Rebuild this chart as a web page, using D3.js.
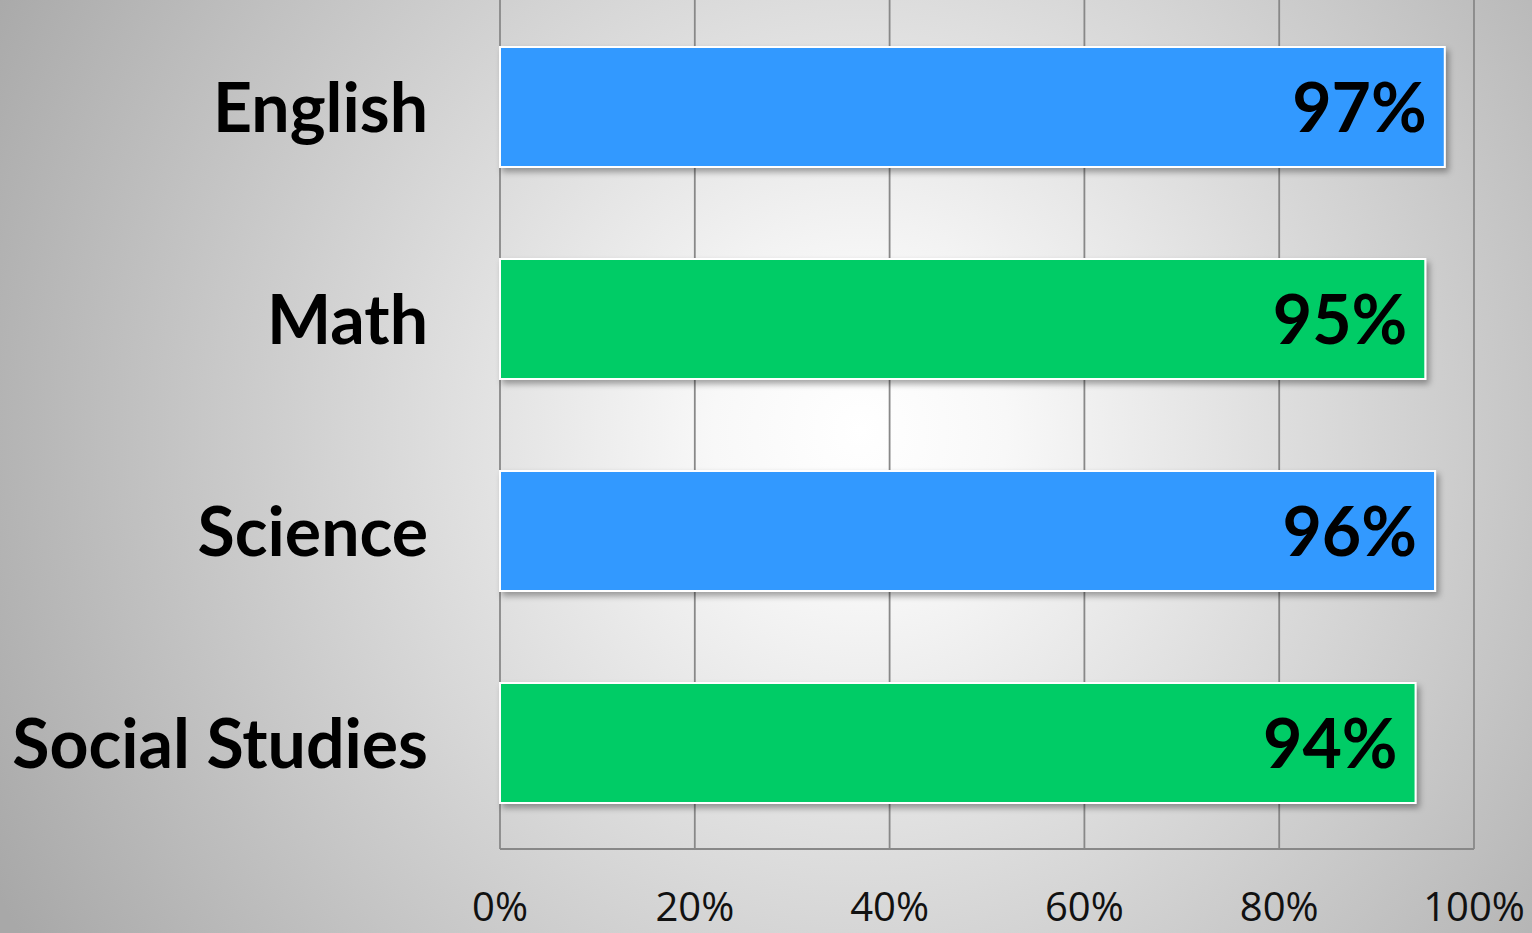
<!DOCTYPE html>
<meta charset="utf-8">
<script src="https://d3js.org/d3.v7.min.js"></script>
<style>
  body { margin: 0; overflow: hidden; }
</style>
<div id="my_dataviz"></div>
<script>
    // chart data
    var subjects = ["English", "Math", "Science", "Social Studies"];
    var scores = [0.97, 0.95, 0.96, 0.94];
    var barColors = ["#3399ff", "#00cc66", "#3399ff", "#00cc66"];
    var tickValues = [0, 0.2, 0.4, 0.6, 0.8, 1.0];

    var W = 1532, H = 933;
    var margin = {top: 1, right: 58, bottom: 84, left: 500},
        width = W - margin.left - margin.right,
        height = H - margin.top - margin.bottom;

    var root = d3.select("#my_dataviz")
      .append("svg")
        .attr("width", W)
        .attr("height", H);

    // background gradient
    var defs = root.append("defs");
    var grad = defs.append("radialGradient")
        .attr("id", "bg")
        .attr("gradientUnits", "userSpaceOnUse")
        .attr("cx", 860).attr("cy", 430).attr("r", 980);
    grad.append("stop").attr("offset", "0%").attr("stop-color", "#ffffff");
    grad.append("stop").attr("offset", "15%").attr("stop-color", "#f8f8f8");
    grad.append("stop").attr("offset", "100%").attr("stop-color", "#a8a8a8");

    var shadow = defs.append("filter")
        .attr("id", "shadow")
        .attr("x", "-5%").attr("y", "-20%")
        .attr("width", "115%").attr("height", "160%");
    shadow.append("feDropShadow")
        .attr("dx", 3).attr("dy", 4)
        .attr("stdDeviation", 3)
        .attr("flood-color", "#000")
        .attr("flood-opacity", 0.35);

    root.append("rect")
        .attr("width", W).attr("height", H)
        .attr("fill", "url(#bg)");

    var svg = root.append("g")
        .attr("transform", "translate(" + margin.left + "," + margin.top + ")");

    var x = d3.scaleLinear()
      .domain([0, 1])
      .range([0, width]);

    var y = d3.scaleBand()
      .domain(subjects)
      .range([0, height])
      .paddingInner(0.434)
      .paddingOuter(0.217);

    // gridlines
    svg.selectAll(".grid")
      .data(tickValues)
      .enter()
      .append("line")
        .attr("x1", function(d) { return x(d); })
        .attr("x2", function(d) { return x(d); })
        .attr("y1", -margin.top)
        .attr("y2", height)
        .attr("stroke", "#888888")
        .attr("stroke-width", 1.8);

    // bottom axis line
    svg.append("line")
        .attr("x1", 0).attr("x2", width)
        .attr("y1", height).attr("y2", height)
        .attr("stroke", "#888888")
        .attr("stroke-width", 1.8);

    // x tick labels
    svg.selectAll(".tick-label")
      .data(tickValues)
      .enter()
      .append("text")
        .attr("x", function(d) { return x(d); })
        .attr("y", height + 72)
        .attr("text-anchor", "middle")
        .style("font-family", "'Open Sans', sans-serif")
        .style("font-size", "40px")
        .attr("fill", "#111")
        .text(function(d) { return d3.format(".0%")(d); });

    // bars
    svg.selectAll(".bar")
      .data(subjects)
      .enter()
      .append("rect")
        .attr("x", 0)
        .attr("y", function(d) { return y(d); })
        .attr("width", function(d, i) { return x(scores[i]); })
        .attr("height", y.bandwidth())
        .attr("fill", function(d, i) { return barColors[i]; })
        .attr("stroke", "#ffffff")
        .attr("stroke-width", 2)
        .attr("filter", "url(#shadow)");

    // value labels
    svg.selectAll(".value")
      .data(subjects)
      .enter()
      .append("text")
        .attr("x", function(d, i) { return x(scores[i]) - 18; })
        .attr("y", function(d) { return y(d) + y.bandwidth() / 2 + 25; })
        .attr("text-anchor", "end")
        .style("font-family", "Lato, 'Open Sans', sans-serif")
        .style("font-weight", "bold")
        .style("font-size", "68px")
        .attr("fill", "#000")
        .text(function(d, i) { return d3.format(".0%")(scores[i]); });

    // category labels
    svg.selectAll(".cat")
      .data(subjects)
      .enter()
      .append("text")
        .attr("x", -72)
        .attr("y", function(d) { return y(d) + y.bandwidth() / 2 + 25; })
        .attr("text-anchor", "end")
        .style("font-family", "Lato, 'Open Sans', sans-serif")
        .style("font-weight", "bold")
        .style("font-size", "68px")
        .attr("fill", "#000")
        .text(function(d) { return d; });
</script>
